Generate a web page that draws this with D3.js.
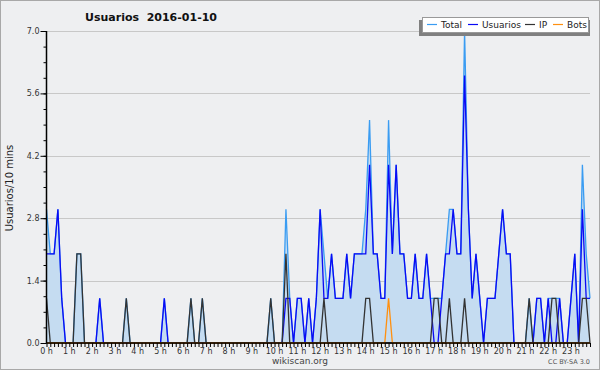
<!DOCTYPE html>
<html>
<head>
<meta charset="utf-8">
<script src="https://cdn.jsdelivr.net/npm/d3@7"></script>
<style>
  body { margin: 0; background: #fff; }
  svg text { font-family: "DejaVu Sans", sans-serif; }
</style>
</head>
<body>
<svg width="600" height="370"></svg>
<script>
// values per 10 minutes, 6 per hour, 0h..23h
const total = [
  3,2,2,3,1,0,  0,0,2,2,0,0,  0,0,1,0,0,0,  0,0,0,1,0,0,
  0,0,0,0,0,0,  0,1,0,0,0,0,  0,0,1,0,0,1,  0,0,0,0,0,0,
  0,0,0,0,0,0,  0,0,0,0,0,1,  0,0,0,3,1,0,  1,1,0,1,0,1,
  3,2,1,2,1,1,  1,2,1,2,2,2,  3,5,2,2,1,1,  5,2,4,2,2,1,
  1,2,1,1,2,1,  1,1,1,2,3,3,  2,2,7,3,1,2,  1,0,1,1,1,2,
  3,2,2,0,0,0,  0,1,0,1,1,0,  1,1,1,1,0,0,  1,2,0,4,2,1
];
const usuarios = [
  2,2,2,3,1,0,  0,0,0,0,0,0,  0,0,1,0,0,0,  0,0,0,0,0,0,
  0,0,0,0,0,0,  0,1,0,0,0,0,  0,0,0,0,0,0,  0,0,0,0,0,0,
  0,0,0,0,0,0,  0,0,0,0,0,0,  0,0,0,1,1,0,  1,1,0,1,0,1,
  3,1,1,2,1,1,  1,2,1,2,2,2,  2,4,2,2,1,1,  4,2,4,2,2,1,
  1,2,1,1,2,1,  0,0,1,2,2,3,  2,2,6,3,1,2,  1,0,1,1,1,2,
  3,2,2,0,0,0,  0,0,0,1,1,0,  1,0,0,1,0,0,  1,2,0,3,1,1
];
const ip = [
  1,0,0,0,0,0,  0,0,2,2,0,0,  0,0,0,0,0,0,  0,0,0,1,0,0,
  0,0,0,0,0,0,  0,0,0,0,0,0,  0,0,1,0,0,1,  0,0,0,0,0,0,
  0,0,0,0,0,0,  0,0,0,0,0,1,  0,0,0,2,0,0,  0,0,0,0,0,0,
  0,1,0,0,0,0,  0,0,0,0,0,0,  1,1,0,0,0,0,  0,0,0,0,0,0,
  0,0,0,0,0,0,  1,1,0,0,1,0,  0,0,1,0,0,0,  0,0,0,0,0,0,
  0,0,0,0,0,0,  0,1,0,0,0,0,  0,1,1,0,0,0,  0,0,0,1,1,0
];
const bots = [
  0,0,0,0,0,0,  0,0,0,0,0,0,  0,0,0,0,0,0,  0,0,0,0,0,0,
  0,0,0,0,0,0,  0,0,0,0,0,0,  0,0,0,0,0,0,  0,0,0,0,0,0,
  0,0,0,0,0,0,  0,0,0,0,0,0,  0,0,0,0,0,0,  0,0,0,0,0,0,
  0,0,0,0,0,0,  0,0,0,0,0,0,  0,0,0,0,0,0,  1,0,0,0,0,0,
  0,0,0,0,0,0,  0,0,0,0,0,0,  0,0,0,0,0,0,  0,0,0,0,0,0,
  0,0,0,0,0,0,  0,0,0,0,0,0,  0,0,0,0,0,0,  0,0,0,0,0,0
];
const hourLabels = d3.range(24).map(h => h + " h");
const yTicks = [0, 1.4, 2.8, 4.2, 5.6, 7.0];
const series = [
  {name: "Total", values: total, color: "#3a9cf2"},
  {name: "Usuarios", values: usuarios, color: "#0a0af5"},
  {name: "IP", values: ip, color: "#333333"},
  {name: "Bots", values: bots, color: "#ff9010"}
];

const svg = d3.select("svg");
var width = +svg.attr("width");
var height = +svg.attr("height");

const mLeft = 46.5, mRight = 590, mTop = 31, mBottom = 343;

svg.append("rect")
    .attr("x", 0.5).attr("y", 0.5)
    .attr("width", width - 1).attr("height", height - 1)
    .attr("fill", "#eeeff1")
    .attr("stroke", "#a8a8a8");

const x = d3.scaleLinear().domain([0, total.length - 1]).range([mLeft, mRight]);
const y = d3.scaleLinear().domain([0, 7]).range([mBottom, mTop]);

// grid
svg.append("g")
    .selectAll("line")
    .data(yTicks.slice(1))
    .enter().append("line")
    .attr("x1", mLeft).attr("x2", mRight)
    .attr("y1", d => Math.round(y(d)) + 0.5)
    .attr("y2", d => Math.round(y(d)) + 0.5)
    .attr("stroke", "#c8c8c8");

// area under total
const area = d3.area()
    .x((d, i) => x(i))
    .y0(y(0))
    .y1(d => y(d));
svg.append("path")
    .datum(total)
    .attr("d", area)
    .attr("fill", "#c5dcf1");

const line = d3.line()
    .x((d, i) => x(i))
    .y(d => y(d));
svg.append("g")
    .selectAll("path")
    .data(series)
    .enter().append("path")
    .attr("d", d => line(d.values))
    .attr("fill", "none")
    .attr("stroke", d => d.color)
    .attr("stroke-width", 1.3)
    .attr("stroke-linejoin", "miter");

// y axis
const yMinor = svg.append("g")
    .attr("transform", `translate(${mLeft},0)`)
    .call(d3.axisLeft(y).tickValues(d3.range(0, 7.01, 0.35)).tickSize(3).tickFormat(""));
yMinor.select(".domain").remove();
yMinor.selectAll("line").attr("stroke", "#000");

const yAxis = svg.append("g")
    .attr("transform", `translate(${mLeft},0)`)
    .call(d3.axisLeft(y).tickValues(yTicks).tickSize(6).tickPadding(1).tickFormat(d3.format(".1f")));
yAxis.select(".domain").attr("d", `M0,${mBottom}V${mTop}`).attr("stroke", "#000").attr("stroke-width", 1.5);
yAxis.selectAll("text")
    .attr("font-family", "DejaVu Sans Condensed")
    .attr("font-size", 8)
    .attr("fill", "#333");

// x axis
const xAxis = svg.append("g")
    .attr("transform", `translate(0,${mBottom})`)
    .call(d3.axisBottom(x).tickValues(d3.range(0, total.length)).tickSize(4).tickFormat(""));
xAxis.select(".domain").attr("d", `M${mLeft},0H${mRight}`).attr("stroke", "#000").attr("stroke-width", 1.5);
xAxis.selectAll("line").attr("stroke", "#000");

svg.append("g")
    .selectAll("text")
    .data(hourLabels)
    .enter().append("text")
    .attr("x", (d, i) => x(i * 6))
    .attr("y", mBottom + 11)
    .attr("text-anchor", "middle")
    .attr("font-family", "DejaVu Sans Condensed")
    .attr("font-size", 8)
    .attr("fill", "#333")
    .text(d => d);

// titles
svg.append("text")
    .attr("x", 151).attr("y", 21)
    .attr("text-anchor", "middle")
    .attr("font-size", 11)
    .attr("font-weight", "bold")
    .attr("fill", "#111")
    .attr("xml:space", "preserve")
    .text("Usuarios  2016-01-10");

svg.append("text")
    .attr("transform", "translate(13,188) rotate(-90)")
    .attr("text-anchor", "middle")
    .attr("font-family", "DejaVu Sans Mono")
    .attr("font-size", 10)
    .attr("fill", "#222")
    .text("Usuarios/10 mins");

svg.append("text")
    .attr("x", 300).attr("y", 364)
    .attr("text-anchor", "middle")
    .attr("font-family", "DejaVu Sans Condensed")
    .attr("font-size", 9)
    .attr("fill", "#444")
    .text("wikiscan.org");

svg.append("text")
    .attr("x", 590).attr("y", 364)
    .attr("text-anchor", "end")
    .attr("font-size", 6.5)
    .attr("fill", "#555")
    .text("CC BY-SA 3.0");

// legend
const legend = svg.append("g");
legend.append("rect")
    .attr("x", 419).attr("y", 20).attr("width", 171).attr("height", 16)
    .attr("fill", "#808080");
legend.append("rect")
    .attr("x", 422.5).attr("y", 17.5).attr("width", 166).attr("height", 15)
    .attr("fill", "#fff")
    .attr("stroke", "#999");
const legendX = [427, 468, 525, 553];
const item = legend.selectAll(".item")
    .data(series)
    .enter().append("g")
    .attr("class", "item")
    .attr("transform", (d, i) => `translate(${legendX[i]},0)`);
item.append("line")
    .attr("x1", 0).attr("x2", 10)
    .attr("y1", 24.5).attr("y2", 24.5)
    .attr("stroke", d => d.color)
    .attr("stroke-width", 1.2);
item.append("text")
    .attr("x", 14).attr("y", 28)
    .attr("font-size", 9)
    .attr("fill", "#222")
    .text(d => d.name);
</script>
</body>
</html>
